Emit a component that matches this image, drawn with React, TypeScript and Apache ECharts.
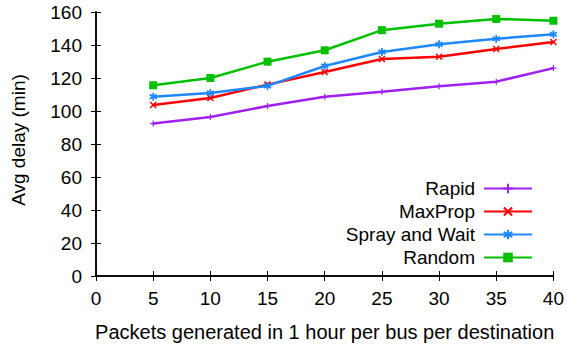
import React, { useEffect, useRef } from "react";
import * as echarts from "echarts";

const packets = [5, 10, 15, 20, 25, 30, 35, 40];
const rapid = [92.4, 96.4, 103, 108.7, 111.7, 115, 117.8, 126];
const maxProp = [103.6, 107.9, 116, 123.6, 131.5, 132.9, 137.6, 141.8];
const sprayAndWait = [108.7, 110.9, 115.2, 127.3, 135.8, 140.4, 143.8, 146.5];
const randomRouting = [115.6, 120, 129.9, 136.8, 149, 152.9, 155.8, 154.7];

const seriesNames = ["Rapid", "MaxProp", "Spray and Wait", "Random"];
const seriesValues = [rapid, maxProp, sprayAndWait, randomRouting];
const seriesColors = ["#a020f0", "#ff0000", "#1e88ff", "#00c000"];

const xTitle = "Packets generated in 1 hour per bus per destination";
const yTitle = "Avg delay (min)";

// marker shapes drawn as paths in a unit box
const plusMark = "path://M4,0 L6,0 L6,4 L10,4 L10,6 L6,6 L6,10 L4,10 L4,6 L0,6 L0,4 L4,4 Z";
const crossMark = "path://M0,1.5 L1.5,0 L5,3.5 L8.5,0 L10,1.5 L6.5,5 L10,8.5 L8.5,10 L5,6.5 L1.5,10 L0,8.5 L3.5,5 Z";
const starMark =
  "path://M4,0 L6,0 L6,3 L8.6,1.5 L9.6,3.2 L7,5 L9.6,6.8 L8.6,8.5 L6,7 L6,10 L4,10 L4,7 L1.4,8.5 L0.4,6.8 L3,5 L0.4,3.2 L1.4,1.5 L4,3 Z";
const markers = [
  { symbol: plusMark, size: 6 },
  { symbol: crossMark, size: 7 },
  { symbol: starMark, size: 8 },
  { symbol: "rect", size: 8 },
];

const FONT = "'Liberation Sans', Arial, sans-serif";
const FS = 19;

export default function App() {
  const ref = useRef<HTMLDivElement>(null);

  useEffect(() => {
    if (!ref.current) return;
    const chart = echarts.init(ref.current, undefined, { renderer: "svg" });

    const series = seriesNames.map((name, i) => ({
      name,
      type: "line",
      data: packets.map((p, j) => [p, seriesValues[i][j]]),
      symbol: markers[i].symbol,
      symbolSize: markers[i].size,
      lineStyle: { color: seriesColors[i], width: 2.5 },
      itemStyle: { color: seriesColors[i] },
      z: 3 + i,
    }));

    const legends = seriesNames.map((name, i) => ({
      data: [name],
      right: 34,
      top: 179 + i * 23,
      orient: "vertical",
      align: "right",
      itemWidth: 48,
      itemHeight: 12,
      itemGap: 0,
      padding: 0,
      textStyle: { fontFamily: FONT, fontSize: FS, color: "#000", padding: [0, 4, 0, 0] },
      selectedMode: false,
    }));

    const axisCommon = {
      min: 0,
      axisLine: { show: true, lineStyle: { color: "#000", width: 1.5 } },
      axisTick: { show: true, inside: true, length: 5, lineStyle: { color: "#000", width: 1 } },
      splitLine: { show: false },
    };

    chart.setOption({
      animation: false,
      grid: { left: 96, right: 12, top: 12, bottom: 72 },
      legend: legends,
      xAxis: [
        {
          ...axisCommon,
          type: "value",
          max: 40,
          interval: 5,
          position: "bottom",
          axisLabel: { fontFamily: FONT, fontSize: FS, color: "#000", margin: 13 },
          name: xTitle,
          nameLocation: "middle",
          nameGap: 46,
          nameTextStyle: { fontFamily: FONT, fontSize: 20, color: "#000" },
        },
        {
          ...axisCommon,
          type: "value",
          max: 40,
          interval: 5,
          position: "top",
          axisLabel: { show: false },
        },
      ],
      yAxis: [
        {
          ...axisCommon,
          type: "value",
          max: 160,
          interval: 20,
          position: "left",
          axisLabel: { fontFamily: FONT, fontSize: FS, color: "#000", margin: 14 },
        },
        {
          ...axisCommon,
          type: "value",
          max: 160,
          interval: 20,
          position: "right",
          axisLabel: { show: false },
        },
      ],
      graphic: [
        {
          type: "text",
          x: 18,
          y: 140,
          rotation: Math.PI / 2,
          style: {
            text: yTitle,
            fontFamily: FONT,
            fontSize: FS,
            fill: "#000",
            textAlign: "center",
            textVerticalAlign: "middle",
          },
        },
      ],
      series,
    });

    return () => chart.dispose();
  }, []);

  return <div ref={ref} style={{ width: 567, height: 348, position: "absolute", left: 0, top: 0 }} />;
}
